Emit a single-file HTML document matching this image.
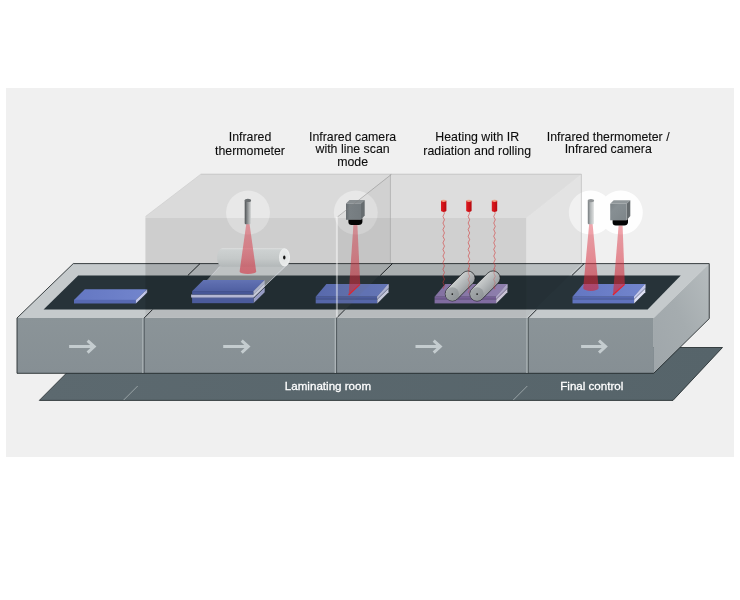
<!DOCTYPE html>
<html lang="en">
<head>
<meta charset="utf-8">
<title>Laminating process – infrared temperature measurement</title>
<style>
html,body{margin:0;padding:0;background:#fff;}
body{width:740px;height:600px;overflow:hidden;position:relative;}
svg{position:absolute;left:0;top:0;display:block;will-change:transform;}
.lb{font-family:"Liberation Sans",Arial,Helvetica,sans-serif;font-size:12.35px;fill:#0c0c0c;stroke:#0c0c0c;stroke-width:0.1px;}
.wl{font-family:"Liberation Sans",Arial,Helvetica,sans-serif;font-size:11.6px;fill:#fff;stroke:#fff;stroke-width:0.28px;}
</style>
</head>
<body>
<svg width="740" height="600" viewBox="0 0 740 600">

<defs>
<linearGradient id="gFloor" x1="0" y1="0" x2="1" y2="0"><stop offset="0" stop-color="#5c696f"/><stop offset="1" stop-color="#56646a"/></linearGradient>
<linearGradient id="gFront" x1="0" y1="0" x2="0" y2="1"><stop offset="0" stop-color="#8b9498"/><stop offset="1" stop-color="#868f94"/></linearGradient>
<linearGradient id="gSide" x1="0" y1="1" x2="1" y2="0"><stop offset="0" stop-color="#9fa6aa"/><stop offset="0.5" stop-color="#a5acaf"/><stop offset="1" stop-color="#b6bcbe"/></linearGradient>
<linearGradient id="gRimR" x1="0" y1="0" x2="1" y2="0"><stop offset="0" stop-color="#b4babc"/><stop offset="1" stop-color="#c9cecf"/></linearGradient>
<linearGradient id="gBlueTop" x1="0" y1="0" x2="1" y2="0"><stop offset="0" stop-color="#6477c2"/><stop offset="1" stop-color="#7285cd"/></linearGradient>
<linearGradient id="gRoll" x1="0" y1="0" x2="0" y2="1"><stop offset="0" stop-color="#dfe1e1"/><stop offset="0.08" stop-color="#cdd1d1"/><stop offset="0.55" stop-color="#c5c9c9"/><stop offset="1" stop-color="#b3b8b9"/></linearGradient>
<linearGradient id="gTh1" x1="0" y1="0" x2="1" y2="0"><stop offset="0" stop-color="#4c5052"/><stop offset="0.35" stop-color="#7d8183"/><stop offset="1" stop-color="#d2d4d4"/></linearGradient>
<linearGradient id="gTh2" x1="0" y1="0" x2="1" y2="0"><stop offset="0" stop-color="#74797c"/><stop offset="0.45" stop-color="#b4b8b9"/><stop offset="1" stop-color="#dfe1e1"/></linearGradient>
<linearGradient id="gCam" x1="0" y1="0" x2="1" y2="0"><stop offset="0" stop-color="#666c70"/><stop offset="0.25" stop-color="#798084"/><stop offset="1" stop-color="#747b7f"/></linearGradient>
<linearGradient id="gHeat" x1="0" y1="0" x2="1" y2="0"><stop offset="0" stop-color="#dc1c22"/><stop offset="0.5" stop-color="#cf1016"/><stop offset="1" stop-color="#b40a10"/></linearGradient>
<linearGradient id="gRoller" x1="0.15" y1="0.15" x2="0.85" y2="0.85"><stop offset="0" stop-color="#a4a9ab"/><stop offset="0.28" stop-color="#c9cccc"/><stop offset="0.55" stop-color="#aeb2b4"/><stop offset="1" stop-color="#7e8386"/></linearGradient>
<linearGradient id="gRCap" x1="0" y1="0" x2="1" y2="1"><stop offset="0" stop-color="#a9aeb0"/><stop offset="1" stop-color="#8b9093"/></linearGradient>
<linearGradient id="gGlassTop" gradientUnits="userSpaceOnUse" x1="145" y1="0" x2="581" y2="0"><stop offset="0" stop-color="#000" stop-opacity="0.095"/><stop offset="0.45" stop-color="#000" stop-opacity="0.095"/><stop offset="0.6" stop-color="#000" stop-opacity="0.08"/><stop offset="1" stop-color="#000" stop-opacity="0.07"/></linearGradient>
<linearGradient id="gGlassFront" gradientUnits="userSpaceOnUse" x1="145" y1="0" x2="526" y2="0"><stop offset="0" stop-color="#000" stop-opacity="0.145"/><stop offset="0.5" stop-color="#000" stop-opacity="0.145"/><stop offset="0.55" stop-color="#000" stop-opacity="0.13"/><stop offset="1" stop-color="#000" stop-opacity="0.125"/></linearGradient>
<linearGradient id="gBlueTopV" x1="0" y1="0" x2="0" y2="1"><stop offset="0" stop-color="#6f81ca"/><stop offset="1" stop-color="#5a6cb6"/></linearGradient>
<radialGradient id="gCap" cx="0.45" cy="0.5" r="0.6"><stop offset="0" stop-color="#dfe2e2"/><stop offset="0.7" stop-color="#e8eaea"/><stop offset="1" stop-color="#f6f7f7"/></radialGradient>
<linearGradient id="gBeam" gradientUnits="userSpaceOnUse" x1="0" y1="223" x2="0" y2="295"><stop offset="0" stop-color="#dc3040" stop-opacity="0.42"/><stop offset="0.5" stop-color="#d82c3c" stop-opacity="0.52"/><stop offset="1" stop-color="#d42838" stop-opacity="0.66"/></linearGradient>
<linearGradient id="gCam2" x1="0" y1="0" x2="1" y2="1"><stop offset="0" stop-color="#7b8387"/><stop offset="0.3" stop-color="#878f93"/><stop offset="1" stop-color="#7d8589"/></linearGradient>
<linearGradient id="gPurple" x1="0" y1="0" x2="1" y2="0"><stop offset="0" stop-color="#9480b6"/><stop offset="1" stop-color="#a190c4"/></linearGradient>
</defs>

<rect x="6" y="88" width="728" height="369" fill="#f0f0f0"/>
<polygon points="39.3,400.4 92,347.5 722.5,347.5 673,400.4" fill="url(#gFloor)" stroke="#1c2326" stroke-width="0.8"/>
<line x1="123.7" y1="400" x2="137.7" y2="386" stroke="#a4adb0" stroke-width="0.85"/>
<line x1="513.3" y1="400" x2="527.3" y2="386" stroke="#a4adb0" stroke-width="0.85"/>
<polygon points="17,318.0 73.25,263.6 709.25,263.6 653.75,318.0" fill="#c5cacc"/>
<polygon points="43.6,309.6 78.2,275.5 680.75,275.5 647.6,309.6" fill="#273339"/>
<rect x="17" y="318.0" width="636.75" height="55.30000000000001" fill="url(#gFront)"/>
<polygon points="653.75,318.0 709.25,263.6 709.25,318.6 653.75,373.3" fill="url(#gSide)"/>
<polygon points="17,318.0 73.25,263.6 709.25,263.6 709.25,318.6 653.75,373.3 17,373.3" fill="none" stroke="#1c2326" stroke-width="0.85" stroke-linejoin="miter"/>
<line x1="142.89999999999998" y1="318.3" x2="142.89999999999998" y2="372.90000000000003" stroke="#aeb6b9" stroke-width="1.3"/>
<line x1="144.2" y1="318.0" x2="144.2" y2="373.3" stroke="#2a3236" stroke-width="0.6"/>
<line x1="144.2" y1="318.0" x2="152.5" y2="309.6" stroke="#14191c" stroke-width="0.9"/>
<line x1="187.79999999999998" y1="275.5" x2="200.0" y2="263.6" stroke="#14191c" stroke-width="0.95"/>
<line x1="335.3" y1="318.3" x2="335.3" y2="372.90000000000003" stroke="#aeb6b9" stroke-width="1.3"/>
<line x1="336.6" y1="318.0" x2="336.6" y2="373.3" stroke="#2a3236" stroke-width="0.6"/>
<line x1="336.6" y1="318.0" x2="344.90000000000003" y2="309.6" stroke="#14191c" stroke-width="0.9"/>
<line x1="380.20000000000005" y1="275.5" x2="392.40000000000003" y2="263.6" stroke="#14191c" stroke-width="0.95"/>
<line x1="527.0" y1="318.3" x2="527.0" y2="372.90000000000003" stroke="#aeb6b9" stroke-width="1.3"/>
<line x1="528.3" y1="318.0" x2="528.3" y2="373.3" stroke="#2a3236" stroke-width="0.6"/>
<line x1="528.3" y1="318.0" x2="536.5999999999999" y2="309.6" stroke="#14191c" stroke-width="0.9"/>
<line x1="571.9" y1="275.5" x2="584.0999999999999" y2="263.6" stroke="#14191c" stroke-width="0.95"/>
<path d="M69.1,346.6 L93.8,346.6 M87.6,340.6 L94.2,346.6 L87.6,352.6" fill="none" stroke="#c4cccf" stroke-width="3" stroke-linejoin="miter" stroke-linecap="butt"/>
<path d="M223.2,346.6 L247.9,346.6 M241.70000000000002,340.6 L248.3,346.6 L241.70000000000002,352.6" fill="none" stroke="#c4cccf" stroke-width="3" stroke-linejoin="miter" stroke-linecap="butt"/>
<path d="M415.5,346.6 L439.9,346.6 M433.7,340.6 L440.29999999999995,346.6 L433.7,352.6" fill="none" stroke="#c4cccf" stroke-width="3" stroke-linejoin="miter" stroke-linecap="butt"/>
<path d="M581.1,346.6 L605.2,346.6 M599.0,340.6 L605.6,346.6 L599.0,352.6" fill="none" stroke="#c4cccf" stroke-width="3" stroke-linejoin="miter" stroke-linecap="butt"/>
<polygon points="74.00,299.90 84.80,289.20 147.20,289.20 135.90,299.90" fill="url(#gBlueTop)"/>
<rect x="74" y="299.8" width="61.9" height="3.7" fill="#5769b2"/>
<polygon points="135.90,299.90 147.20,289.20 147.20,292.40 135.90,303.50" fill="#c6caee"/>
<polygon points="253.50,298.60 264.70,287.60 264.70,292.20 253.50,303.20" fill="#aab0dc"/>
<rect x="192.1" y="297.2" width="61.4" height="1.6" fill="#6a7bc4"/>
<rect x="192.1" y="298.6" width="61.4" height="4.6" fill="#5567b0"/>
<polygon points="191.10,294.50 253.50,294.50 264.70,283.40 264.70,286.40 253.50,297.50 191.10,297.50" fill="#cbceee"/>
<polygon points="192.10,291.20 203.40,280.00 264.60,280.00 253.50,291.20" fill="url(#gBlueTopV)"/>
<rect x="192.1" y="291.1" width="61.4" height="3.4" fill="#4f61aa"/>
<polygon points="253.50,291.20 264.60,280.00 264.60,283.40 253.50,294.40" fill="#97a0d6"/>
<polygon points="315.70,296.80 326.40,284.10 388.50,284.10 377.30,296.80" fill="url(#gBlueTop)"/>
<rect x="315.7" y="296.7" width="61.6" height="2.4" fill="#5668b0"/>
<rect x="315.7" y="299.1" width="61.6" height="4.3" fill="#6073bd"/>
<polygon points="377.30,296.80 388.50,284.10 388.50,292.30 377.30,303.40" fill="#dfe1f5"/>
<polygon points="377.30,296.80 388.50,284.10 388.50,287.90 377.30,299.00" fill="#c3c8ec"/>
<line x1="377.3" y1="299.3" x2="388.5" y2="288.3" stroke="#2b3550" stroke-width="0.55"/>
<line x1="315.7" y1="299.1" x2="377.3" y2="299.1" stroke="#2b3550" stroke-width="0.4" stroke-opacity="0.6"/>
<polygon points="434.60,296.80 445.30,284.10 507.40,284.10 496.20,296.80" fill="url(#gPurple)"/>
<rect x="434.6" y="296.7" width="61.6" height="2.4" fill="#846ca8"/>
<rect x="434.6" y="299.1" width="61.6" height="4.3" fill="#907ab4"/>
<polygon points="496.20,296.80 507.40,284.10 507.40,292.30 496.20,303.40" fill="#e4def2"/>
<polygon points="496.20,296.80 507.40,284.10 507.40,287.90 496.20,299.00" fill="#c4bbe0"/>
<line x1="496.20000000000005" y1="299.3" x2="507.40000000000003" y2="288.3" stroke="#3a2b50" stroke-width="0.55"/>
<line x1="434.6" y1="299.1" x2="496.20000000000005" y2="299.1" stroke="#3a2b50" stroke-width="0.4" stroke-opacity="0.6"/>
<polygon points="572.50,296.80 583.20,284.10 645.30,284.10 634.10,296.80" fill="url(#gBlueTop)"/>
<rect x="572.5" y="296.7" width="61.6" height="2.4" fill="#5668b0"/>
<rect x="572.5" y="299.1" width="61.6" height="4.3" fill="#6073bd"/>
<polygon points="634.10,296.80 645.30,284.10 645.30,292.30 634.10,303.40" fill="#dfe1f5"/>
<polygon points="634.10,296.80 645.30,284.10 645.30,287.90 634.10,299.00" fill="#c3c8ec"/>
<line x1="634.1" y1="299.3" x2="645.3" y2="288.3" stroke="#2b3550" stroke-width="0.55"/>
<line x1="572.5" y1="299.1" x2="634.1" y2="299.1" stroke="#2b3550" stroke-width="0.4" stroke-opacity="0.6"/>
<circle cx="248" cy="212.6" r="22" fill="#fff" fill-opacity="0.95"/>
<circle cx="355.8" cy="212.6" r="22" fill="#fff" fill-opacity="0.95"/>
<path d="M590.8,190.6 a22,22 0 1 0 0.01,0 Z M620.8,190.6 a22,22 0 1 0 0.01,0 Z" fill="#fff" fill-opacity="0.93" fill-rule="nonzero"/>
<polygon points="145.4,216.4 200.6,174.2 391,174.2 337.4,217 337.4,218 145.4,218" fill="#000" fill-opacity="0.09"/>
<polygon points="337.4,217 391,174.2 581.4,174.2 526.2,218 337.4,218" fill="#000" fill-opacity="0.078"/>
<polygon points="526.2,218 581.4,174.2 581.4,263.6 526.2,317.8" fill="#000" fill-opacity="0.05"/>
<rect x="145.4" y="218" width="192" height="57.5" fill="#000" fill-opacity="0.14"/>
<rect x="337.4" y="218" width="188.8" height="57.5" fill="#000" fill-opacity="0.135"/>
<rect x="145.4" y="275.5" width="380.8" height="34.1" fill="#000" fill-opacity="0.11"/>
<rect x="145.4" y="309.6" width="380.8" height="8.2" fill="#000" fill-opacity="0.07"/>
<polyline points="200.8,174.2 581.4,174.2 581.4,263.4" fill="none" stroke="#b4b4b4" stroke-width="0.6"/>
<line x1="145.6" y1="216.4" x2="200.8" y2="174.2" stroke="#c6c6c6" stroke-width="0.5"/>
<polygon points="219.5,266.3 288,264 253.6,296.4 253.6,291 264.6,280 208,280" fill="#d4d8d8" fill-opacity="0.5"/>
<line x1="288.3" y1="263.5" x2="253.8" y2="296.6" stroke="#e6e8f0" stroke-width="0.7" stroke-opacity="0.9"/>
<line x1="219.5" y1="266.8" x2="207.5" y2="280" stroke="#e6e8f0" stroke-width="0.6" stroke-opacity="0.7"/>
<path d="M222.5,248.3 L284.5,248.3 L284.5,266.7 L222.5,266.7 A5.5,9.2 0 0 1 222.5,248.3 Z" fill="url(#gRoll)"/>
<ellipse cx="284.5" cy="257.4" rx="5.5" ry="9.1" fill="url(#gCap)"/>
<ellipse cx="284.3" cy="257.5" rx="1.2" ry="1.9" fill="#111"/>
<path d="M246.3,223.8 L249.5,223.8 L256.2,271.4 A8.3,2.6 0 0 1 239.6,271.4 Z" fill="url(#gBeam)"/>
<path d="M589.1999999999999,223.8 L592.6,223.8 L598.6,288.0 A7.7,3.0 0 0 1 583.1999999999999,288.0 Z" fill="url(#gBeam)"/>
<polygon points="353.4,225 357.4,225 360.2,284.3 348.6,295.2" fill="url(#gBeam)"/>
<line x1="348.6" y1="295" x2="360" y2="284.3" stroke="#e8202c" stroke-width="1.1"/>
<polygon points="618.6,225.5 622.6,225.5 624.8,284.3 612.9,295.2" fill="url(#gBeam)"/>
<line x1="612.9" y1="295" x2="624.6" y2="284.3" stroke="#e8202c" stroke-width="1.1"/>
<polygon points="337.4,217 390.6,174.6 390.6,263.8 337.4,317.8" fill="#6c6c6c" fill-opacity="0.1"/>
<path d="M244.7,200.29999999999998 L250.9,200.29999999999998 L250.9,223.4 A3.1000000000000085,0.9 0 0 1 244.7,223.4 Z" fill="url(#gTh1)"/>
<ellipse cx="247.9" cy="200.39999999999998" rx="3.2000000000000086" ry="1.7" fill="#6a6e70"/>
<path d="M587.8,200.5 L593.9,200.5 L593.9,223.4 A3.0500000000000114,0.9 0 0 1 587.8,223.4 Z" fill="url(#gTh2)"/>
<ellipse cx="590.9499999999999" cy="200.6" rx="3.1500000000000115" ry="1.7" fill="#8f9395"/>
<polygon points="346.00,203.50 349.50,200.00 364.70,200.00 361.00,203.50" fill="#888e91"/>
<polygon points="361.00,203.50 364.70,200.00 364.70,215.50 361.00,219.80" fill="#666c6f"/>
<rect x="346.0" y="203.5" width="15.0" height="16.30000000000001" fill="url(#gCam)"/>
<path d="M348.4,219.8 L361.0,219.8 L362.4,218.60000000000002 L362.4,222.0 Q362.0,225.0 358.6,225.0 L351.6,225.0 Q348.4,224.8 348.4,222.0 Z" fill="#050505"/>
<polygon points="610.20,203.80 613.70,200.30 630.30,200.30 626.60,203.80" fill="#90979a"/>
<polygon points="626.60,203.80 630.30,200.30 630.30,216.00 626.60,220.30" fill="#656b6e"/>
<rect x="610.2" y="203.8" width="16.399999999999977" height="16.5" fill="url(#gCam2)"/>
<path d="M612.6,220.3 L626.6,220.3 L628.0,219.10000000000002 L628.0,222.5 Q627.6,225.5 624.2,225.5 L615.8000000000001,225.5 Q612.6,225.3 612.6,222.5 Z" fill="#050505"/>
<line x1="337.6" y1="216.8" x2="391.4" y2="174.4" stroke="#808080" stroke-width="0.45"/>
<line x1="390.4" y1="174.4" x2="390.4" y2="263.4" stroke="#9a9a9a" stroke-width="0.5"/>
<line x1="336.9" y1="217" x2="336.9" y2="317.6" stroke="#fff" stroke-width="2" stroke-opacity="0.45"/>
<path d="M443.70,211.50 Q445.20,213.15 443.70,214.80 Q442.20,216.45 443.70,218.10 Q445.20,219.75 443.70,221.40 Q442.20,223.05 443.70,224.70 Q445.20,226.35 443.70,228.00 Q442.20,229.65 443.70,231.30 Q445.20,232.95 443.70,234.60 Q442.20,236.25 443.70,237.90 Q445.20,239.55 443.70,241.20 Q442.20,242.85 443.70,244.50 Q445.20,246.15 443.70,247.80 Q442.20,249.45 443.70,251.10 Q445.20,252.75 443.70,254.40 Q442.20,256.05 443.70,257.70 Q445.20,259.35 443.70,261.00 Q442.20,262.65 443.70,264.30 Q445.20,265.95 443.70,267.60 Q442.20,269.25 443.70,270.90 Q445.20,272.55 443.70,274.20 Q442.20,275.85 443.70,277.50 Q445.20,279.15 443.70,280.80 Q442.20,282.45 443.70,284.10 Q445.20,285.75 443.70,287.40 Q442.20,287.95 443.70,288.50" fill="none" stroke="#d23030" stroke-width="0.6" stroke-opacity="0.95"/>
<path d="M441.0,200.8 L441.0,210.8 A2.7,1.1 0 0 0 446.4,210.8 L446.4,200.8 Z" fill="url(#gHeat)"/>
<ellipse cx="443.7" cy="200.8" rx="2.7" ry="1.15" fill="#f0a084"/>
<path d="M468.90,211.50 Q470.40,213.15 468.90,214.80 Q467.40,216.45 468.90,218.10 Q470.40,219.75 468.90,221.40 Q467.40,223.05 468.90,224.70 Q470.40,226.35 468.90,228.00 Q467.40,229.65 468.90,231.30 Q470.40,232.95 468.90,234.60 Q467.40,236.25 468.90,237.90 Q470.40,239.55 468.90,241.20 Q467.40,242.85 468.90,244.50 Q470.40,246.15 468.90,247.80 Q467.40,249.45 468.90,251.10 Q470.40,252.75 468.90,254.40 Q467.40,256.05 468.90,257.70 Q470.40,259.35 468.90,261.00 Q467.40,262.65 468.90,264.30 Q470.40,265.95 468.90,267.60 Q467.40,269.25 468.90,270.90 Q470.40,272.55 468.90,274.20 Q467.40,275.85 468.90,277.50 Q470.40,279.15 468.90,280.80 Q467.40,282.45 468.90,284.10 Q470.40,285.75 468.90,287.40 Q467.40,287.95 468.90,288.50" fill="none" stroke="#d23030" stroke-width="0.6" stroke-opacity="0.95"/>
<path d="M466.2,200.8 L466.2,210.8 A2.7,1.1 0 0 0 471.59999999999997,210.8 L471.59999999999997,200.8 Z" fill="url(#gHeat)"/>
<ellipse cx="468.9" cy="200.8" rx="2.7" ry="1.15" fill="#f0a084"/>
<path d="M494.50,211.50 Q496.00,213.15 494.50,214.80 Q493.00,216.45 494.50,218.10 Q496.00,219.75 494.50,221.40 Q493.00,223.05 494.50,224.70 Q496.00,226.35 494.50,228.00 Q493.00,229.65 494.50,231.30 Q496.00,232.95 494.50,234.60 Q493.00,236.25 494.50,237.90 Q496.00,239.55 494.50,241.20 Q493.00,242.85 494.50,244.50 Q496.00,246.15 494.50,247.80 Q493.00,249.45 494.50,251.10 Q496.00,252.75 494.50,254.40 Q493.00,256.05 494.50,257.70 Q496.00,259.35 494.50,261.00 Q493.00,262.65 494.50,264.30 Q496.00,265.95 494.50,267.60 Q493.00,269.25 494.50,270.90 Q496.00,272.55 494.50,274.20 Q493.00,275.85 494.50,277.50 Q496.00,279.15 494.50,280.80 Q493.00,282.45 494.50,284.10 Q496.00,285.75 494.50,287.40 Q493.00,287.95 494.50,288.50" fill="none" stroke="#d23030" stroke-width="0.6" stroke-opacity="0.95"/>
<path d="M491.8,200.8 L491.8,210.8 A2.7,1.1 0 0 0 497.2,210.8 L497.2,200.8 Z" fill="url(#gHeat)"/>
<ellipse cx="494.5" cy="200.8" rx="2.7" ry="1.15" fill="#f0a084"/>
<path d="M457.41,298.97 L473.11,283.17 A7.2,7.2 0 0 0 462.89,273.03 L447.19,288.83 A7.2,7.2 0 0 0 457.41,298.97 Z" fill="url(#gRoller)" stroke="#15191b" stroke-width="0.7"/>
<circle cx="452.3" cy="293.9" r="6.7" fill="url(#gRCap)"/>
<circle cx="452.3" cy="294.09999999999997" r="0.85" fill="#1a1a1a"/>
<path d="M482.18,299.01 L498.08,283.21 A7.2,7.2 0 0 0 487.92,272.99 L472.02,288.79 A7.2,7.2 0 0 0 482.18,299.01 Z" fill="url(#gRoller)" stroke="#15191b" stroke-width="0.7"/>
<circle cx="477.1" cy="293.9" r="6.7" fill="url(#gRCap)"/>
<circle cx="477.1" cy="294.09999999999997" r="0.85" fill="#1a1a1a"/>
<path d="M468.90,268.00 Q470.40,269.65 468.90,271.30 Q467.40,272.95 468.90,274.60 Q470.40,276.25 468.90,277.90 Q467.40,279.55 468.90,281.20 Q470.40,282.85 468.90,284.50 Q467.40,286.15 468.90,287.80 Q470.40,289.45 468.90,291.10 Q467.40,292.15 468.90,293.20" fill="none" stroke="#d63a3a" stroke-width="0.5" stroke-opacity="0.65"/>
<path d="M494.50,268.00 Q496.00,269.65 494.50,271.30 Q493.00,272.95 494.50,274.60 Q496.00,276.25 494.50,277.90 Q493.00,279.55 494.50,281.20 Q496.00,282.85 494.50,284.50 Q493.00,286.15 494.50,287.80 Q496.00,288.65 494.50,289.50" fill="none" stroke="#d63a3a" stroke-width="0.5" stroke-opacity="0.65"/>
<text x="250" y="141.0" text-anchor="middle" class="lb">Infrared</text>
<text x="250" y="154.5" text-anchor="middle" class="lb">thermometer</text>
<text x="352.6" y="141.0" text-anchor="middle" class="lb">Infrared camera</text>
<text x="352.6" y="153.3" text-anchor="middle" class="lb">with line scan</text>
<text x="352.6" y="165.5" text-anchor="middle" class="lb">mode</text>
<text x="477.2" y="141.0" text-anchor="middle" class="lb">Heating with IR</text>
<text x="477.2" y="154.6" text-anchor="middle" class="lb">radiation and rolling</text>
<text x="608.2" y="141.0" text-anchor="middle" class="lb">Infrared thermometer /</text>
<text x="608.2" y="153.3" text-anchor="middle" class="lb">Infrared camera</text>
<text x="328" y="389.8" text-anchor="middle" class="wl">Laminating room</text>
<text x="591.8" y="389.8" text-anchor="middle" class="wl">Final control</text>
</svg>
</body>
</html>
